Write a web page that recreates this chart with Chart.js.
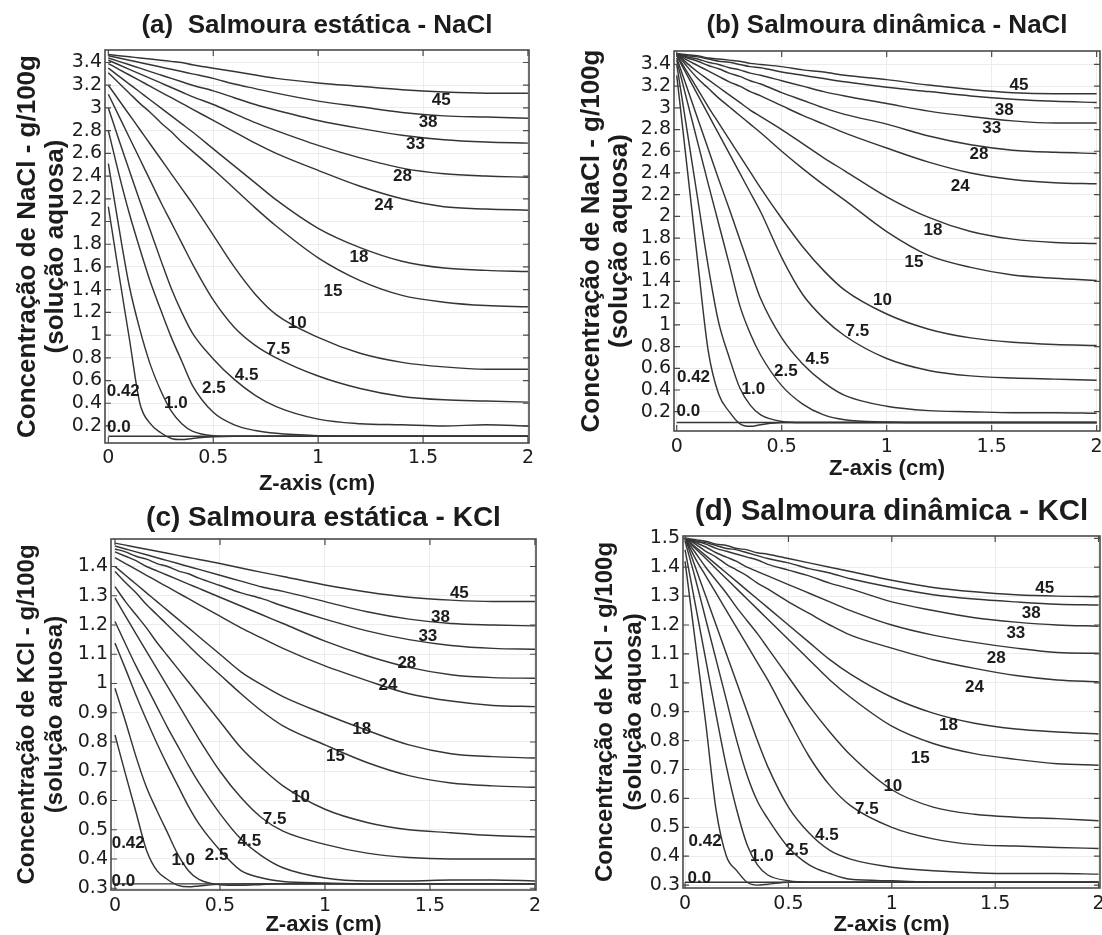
<!DOCTYPE html>
<html>
<head>
<meta charset="utf-8">
<script src="https://cdn.jsdelivr.net/npm/chart.js@4.4.1/dist/chart.umd.min.js"></script>
<style>
  html, body { margin: 0; padding: 0; background: #ffffff; overflow: hidden; width: 1102px; height: 935px; }
  canvas { position: absolute; }
</style>
</head>
<body>
<canvas id="cA" width="551" height="500" style="left:0px;top:0px;"></canvas>
<canvas id="cB" width="580" height="490" style="left:551px;top:0px;"></canvas>
<canvas id="cC" width="551" height="470" style="left:0px;top:480px;"></canvas>
<canvas id="cD" width="580" height="470" style="left:551px;top:480px;"></canvas>
<script>
// ---------------- DATA ----------------
const zGrid = [0, 0.05, 0.1, 0.15, 0.2, 0.25, 0.3, 0.35, 0.4, 0.5, 0.6, 0.7, 0.8, 1.0, 1.2, 1.4, 1.6, 1.8, 2.0];
const curveNames = ['0.0','0.42','1.0','2.5','4.5','7.5','10','15','18','24','28','33','38','45'];
const xTickValues = [0, 0.5, 1, 1.5, 2];
const yTicksNaCl = [0.2, 0.4, 0.6, 0.8, 1, 1.2, 1.4, 1.6, 1.8, 2, 2.2, 2.4, 2.6, 2.8, 3, 3.2, 3.4];
const yTicksKClStatic = [0.3, 0.4, 0.5, 0.6, 0.7, 0.8, 0.9, 1, 1.1, 1.2, 1.3, 1.4];
const yTicksKClDynamic = [0.3, 0.4, 0.5, 0.6, 0.7, 0.8, 0.9, 1, 1.1, 1.2, 1.3, 1.4, 1.5];

// (a) Salmoura estática - NaCl
const naclStatic = [
  [0.11,0.11,0.11,0.11,0.11,0.11,0.11,0.11,0.11,0.11,0.11,0.11,0.11,0.11,0.11,0.11,0.11,0.11,0.11],
  [2.13,1.54,0.97,0.40,0.22,0.14,0.09,0.08,0.09,0.105,0.11,0.11,0.11,0.11,0.11,0.11,0.11,0.11,0.11],
  [2.51,1.95,1.43,1.05,0.74,0.51,0.33,0.22,0.155,0.115,0.11,0.11,0.11,0.11,0.11,0.11,0.11,0.11,0.11],
  [2.80,2.42,2.07,1.76,1.47,1.22,0.98,0.77,0.56,0.32,0.21,0.16,0.135,0.115,0.11,0.11,0.11,0.11,0.11],
  [3.00,2.72,2.45,2.18,1.92,1.66,1.41,1.20,1.02,0.79,0.61,0.47,0.37,0.26,0.22,0.21,0.20,0.21,0.20],
  [3.12,2.93,2.74,2.55,2.36,2.17,1.99,1.81,1.63,1.31,1.07,0.91,0.80,0.64,0.53,0.46,0.43,0.42,0.41],
  [3.20,3.07,2.94,2.81,2.68,2.55,2.42,2.29,2.16,1.88,1.60,1.36,1.18,0.98,0.84,0.76,0.72,0.70,0.70],
  [3.31,3.22,3.13,3.04,2.96,2.87,2.79,2.70,2.62,2.46,2.29,2.12,1.96,1.68,1.48,1.35,1.29,1.26,1.25],
  [3.35,3.28,3.21,3.14,3.07,3.00,2.93,2.86,2.79,2.64,2.49,2.34,2.19,1.94,1.77,1.65,1.59,1.57,1.56],
  [3.39,3.34,3.29,3.24,3.19,3.14,3.09,3.04,2.99,2.89,2.79,2.69,2.60,2.45,2.31,2.20,2.13,2.11,2.10],
  [3.42,3.38,3.34,3.30,3.26,3.22,3.18,3.14,3.10,3.03,2.95,2.87,2.80,2.67,2.56,2.47,2.42,2.40,2.39],
  [3.44,3.41,3.38,3.35,3.32,3.29,3.26,3.23,3.20,3.15,3.09,3.03,2.98,2.89,2.82,2.76,2.72,2.70,2.69],
  [3.46,3.44,3.42,3.40,3.38,3.36,3.34,3.32,3.30,3.26,3.21,3.17,3.13,3.06,3.01,2.96,2.93,2.92,2.91],
  [3.47,3.46,3.45,3.44,3.43,3.42,3.41,3.40,3.38,3.35,3.32,3.29,3.26,3.22,3.19,3.16,3.14,3.13,3.13]
];
const naclStaticLabelAt = [
  [0.05,0.19],[0.071,0.508],[0.322,0.396],[0.503,0.531],[0.659,0.649],[0.81,0.875],[0.90,1.10],
  [1.071,1.383],[1.195,1.689],[1.313,2.139],[1.402,2.395],[1.464,2.677],[1.524,2.874],[1.587,3.065]
];

// (b) Salmoura dinâmica - NaCl
const naclDynamic = [
  [0.10,0.10,0.10,0.10,0.10,0.10,0.10,0.10,0.10,0.10,0.10,0.10,0.10,0.10,0.10,0.10,0.10,0.10,0.10],
  [3.30,2.44,1.58,0.76,0.36,0.20,0.09,0.065,0.08,0.10,0.10,0.10,0.10,0.10,0.10,0.10,0.10,0.10,0.10],
  [3.40,2.78,2.16,1.54,1.02,0.70,0.42,0.26,0.17,0.11,0.10,0.10,0.10,0.10,0.10,0.10,0.10,0.10,0.10],
  [3.44,3.06,2.68,2.30,1.93,1.56,1.18,0.92,0.72,0.44,0.27,0.17,0.125,0.105,0.10,0.10,0.10,0.10,0.10],
  [3.46,3.18,2.90,2.62,2.34,2.07,1.79,1.51,1.24,0.88,0.64,0.47,0.35,0.25,0.21,0.20,0.19,0.19,0.185],
  [3.48,3.30,3.12,2.94,2.76,2.58,2.40,2.22,2.04,1.62,1.28,1.06,0.90,0.69,0.58,0.53,0.51,0.50,0.49],
  [3.49,3.33,3.17,3.01,2.86,2.71,2.56,2.41,2.26,1.98,1.72,1.50,1.32,1.10,0.96,0.88,0.84,0.82,0.81],
  [3.50,3.38,3.27,3.18,3.09,3.01,2.93,2.85,2.77,2.60,2.44,2.29,2.15,1.86,1.64,1.53,1.46,1.43,1.41],
  [3.50,3.41,3.33,3.26,3.19,3.12,3.05,2.98,2.92,2.80,2.67,2.54,2.42,2.18,1.99,1.86,1.79,1.76,1.75],
  [3.50,3.44,3.39,3.34,3.29,3.24,3.20,3.15,3.11,3.02,2.93,2.85,2.77,2.63,2.50,2.40,2.34,2.31,2.30],
  [3.50,3.46,3.43,3.39,3.36,3.32,3.29,3.25,3.22,3.14,3.07,3.00,2.94,2.85,2.74,2.66,2.61,2.59,2.58],
  [3.50,3.47,3.45,3.42,3.40,3.37,3.35,3.32,3.30,3.25,3.20,3.15,3.11,3.04,2.97,2.92,2.88,2.86,2.86],
  [3.50,3.48,3.47,3.45,3.43,3.42,3.40,3.38,3.37,3.33,3.30,3.27,3.24,3.19,3.15,3.11,3.08,3.06,3.05],
  [3.50,3.49,3.48,3.46,3.45,3.44,3.43,3.41,3.40,3.38,3.35,3.33,3.30,3.26,3.21,3.17,3.14,3.13,3.13]
];
const naclDynamicLabelAt = [
  [0.055,0.20],[0.08,0.52],[0.365,0.41],[0.52,0.57],[0.67,0.68],[0.86,0.94],[0.98,1.23],
  [1.13,1.58],[1.22,1.87],[1.35,2.28],[1.44,2.57],[1.50,2.81],[1.56,2.98],[1.63,3.21]
];

// (c) Salmoura estática - KCl
const kclStatic = [
  [0.315,0.315,0.315,0.315,0.315,0.315,0.315,0.315,0.315,0.315,0.315,0.315,0.315,0.315,0.315,0.315,0.315,0.315,0.315],
  [0.824,0.69,0.56,0.43,0.36,0.33,0.31,0.305,0.308,0.314,0.315,0.315,0.315,0.315,0.315,0.315,0.315,0.315,0.315],
  [0.984,0.87,0.75,0.645,0.565,0.49,0.415,0.36,0.33,0.312,0.31,0.313,0.315,0.315,0.315,0.315,0.315,0.315,0.315],
  [1.138,1.05,0.96,0.875,0.795,0.72,0.65,0.58,0.52,0.43,0.36,0.335,0.323,0.318,0.315,0.315,0.315,0.315,0.315],
  [1.212,1.135,1.06,0.99,0.92,0.85,0.785,0.72,0.66,0.555,0.468,0.41,0.37,0.335,0.325,0.325,0.328,0.328,0.325],
  [1.292,1.23,1.17,1.11,1.05,0.99,0.93,0.87,0.81,0.70,0.61,0.54,0.495,0.45,0.42,0.405,0.40,0.40,0.40],
  [1.331,1.28,1.235,1.19,1.14,1.095,1.05,1.005,0.96,0.87,0.78,0.71,0.65,0.57,0.525,0.50,0.49,0.48,0.476],
  [1.383,1.345,1.31,1.27,1.235,1.20,1.165,1.13,1.095,1.03,0.965,0.905,0.855,0.79,0.73,0.685,0.66,0.65,0.645],
  [1.40,1.37,1.34,1.31,1.28,1.25,1.22,1.19,1.16,1.10,1.04,0.995,0.955,0.895,0.84,0.79,0.76,0.75,0.745],
  [1.43,1.41,1.39,1.37,1.35,1.33,1.31,1.29,1.27,1.23,1.19,1.155,1.12,1.06,1.01,0.965,0.94,0.925,0.921],
  [1.45,1.435,1.42,1.40,1.385,1.37,1.355,1.34,1.325,1.295,1.265,1.235,1.205,1.145,1.095,1.055,1.03,1.02,1.018],
  [1.46,1.45,1.435,1.425,1.41,1.40,1.385,1.375,1.36,1.335,1.31,1.29,1.265,1.22,1.18,1.15,1.13,1.12,1.117],
  [1.47,1.46,1.45,1.44,1.43,1.42,1.41,1.40,1.39,1.37,1.35,1.33,1.315,1.28,1.245,1.22,1.205,1.20,1.197],
  [1.48,1.473,1.466,1.459,1.452,1.445,1.438,1.431,1.424,1.41,1.395,1.38,1.366,1.337,1.313,1.295,1.285,1.28,1.28]
];
const kclStaticLabelAt = [
  [0.04,0.323],[0.063,0.454],[0.325,0.397],[0.484,0.414],[0.64,0.46],[0.76,0.536],[0.884,0.611],
  [1.05,0.752],[1.175,0.844],[1.30,0.995],[1.39,1.07],[1.49,1.16],[1.55,1.227],[1.64,1.31]
];

// (d) Salmoura dinâmica - KCl
const kclDynamic = [
  [0.31,0.31,0.31,0.31,0.31,0.31,0.31,0.31,0.31,0.31,0.31,0.31,0.31,0.31,0.31,0.31,0.31,0.31,0.31],
  [1.42,1.14,0.86,0.56,0.40,0.35,0.31,0.30,0.303,0.31,0.31,0.31,0.31,0.31,0.31,0.31,0.31,0.31,0.31],
  [1.46,1.27,1.08,0.89,0.71,0.56,0.44,0.37,0.335,0.315,0.31,0.31,0.31,0.31,0.31,0.31,0.31,0.31,0.31],
  [1.49,1.36,1.22,1.08,0.94,0.80,0.68,0.59,0.53,0.43,0.37,0.34,0.32,0.315,0.31,0.31,0.31,0.31,0.31],
  [1.50,1.40,1.30,1.20,1.10,1.00,0.90,0.80,0.71,0.57,0.48,0.42,0.39,0.362,0.35,0.343,0.34,0.34,0.338],
  [1.50,1.43,1.37,1.31,1.25,1.19,1.13,1.07,1.01,0.875,0.745,0.645,0.575,0.50,0.46,0.44,0.435,0.43,0.427],
  [1.50,1.45,1.40,1.355,1.31,1.26,1.215,1.17,1.12,1.02,0.92,0.83,0.75,0.63,0.57,0.545,0.535,0.53,0.523],
  [1.50,1.465,1.43,1.395,1.36,1.325,1.29,1.255,1.22,1.15,1.08,1.01,0.95,0.85,0.79,0.755,0.735,0.72,0.715],
  [1.50,1.47,1.44,1.41,1.38,1.35,1.32,1.29,1.26,1.20,1.14,1.08,1.03,0.95,0.895,0.86,0.84,0.83,0.823],
  [1.50,1.48,1.455,1.435,1.41,1.39,1.37,1.345,1.325,1.28,1.24,1.20,1.165,1.12,1.08,1.05,1.025,1.01,1.004],
  [1.50,1.485,1.47,1.45,1.435,1.42,1.40,1.385,1.37,1.34,1.31,1.28,1.25,1.20,1.165,1.14,1.12,1.105,1.102],
  [1.50,1.49,1.48,1.465,1.455,1.445,1.435,1.425,1.41,1.39,1.37,1.345,1.325,1.28,1.25,1.225,1.21,1.20,1.196],
  [1.50,1.49,1.485,1.475,1.465,1.46,1.45,1.44,1.43,1.415,1.395,1.38,1.36,1.33,1.305,1.29,1.28,1.272,1.269],
  [1.50,1.495,1.49,1.48,1.475,1.465,1.46,1.45,1.445,1.43,1.415,1.40,1.385,1.355,1.33,1.315,1.305,1.30,1.298]
];
const kclDynamicLabelAt = [
  [0.069,0.323],[0.097,0.45],[0.371,0.398],[0.54,0.421],[0.686,0.473],[0.879,0.562],[1.005,0.643],
  [1.137,0.739],[1.274,0.854],[1.40,0.984],[1.505,1.085],[1.60,1.173],[1.674,1.24],[1.74,1.327]
];

// ---------------- RENDER ----------------
const LINE_COLOR = '#353535';
const TEXT_COLOR = '#1c1c1c';

function makePanel(id, p) {
  const datasets = p.series.map((row, i) => ({
    label: curveNames[i],
    data: zGrid.map((z, j) => ({ x: z, y: row[j] })),
    borderColor: LINE_COLOR,
    borderWidth: 1.45,
    pointRadius: 0,
    fill: false,
    cubicInterpolationMode: 'monotone'
  }));

  const framePlugin = {
    id: 'frameAndLabels_' + id,
    afterDatasetsDraw(chart) {
      const { ctx, chartArea: a, scales } = chart;
      const xs = scales.x, ys = scales.y;
      ctx.save();
      ctx.strokeStyle = '#4a4a4a';
      ctx.lineWidth = 1.6;
      ctx.strokeRect(a.left, a.top, a.right - a.left, a.bottom - a.top);
      ctx.lineWidth = 1.2;
      const L = 6;
      ctx.beginPath();
      ys.ticks.forEach(t => {
        const py = ys.getPixelForValue(t.value);
        ctx.moveTo(a.left, py); ctx.lineTo(a.left + L, py);
        ctx.moveTo(a.right, py); ctx.lineTo(a.right - L, py);
      });
      xs.ticks.forEach(t => {
        const px = xs.getPixelForValue(t.value);
        ctx.moveTo(px, a.bottom); ctx.lineTo(px, a.bottom - L);
        ctx.moveTo(px, a.top); ctx.lineTo(px, a.top + L);
      });
      ctx.stroke();
      ctx.font = 'bold 17px "Liberation Sans", Arial, sans-serif';
      ctx.fillStyle = TEXT_COLOR;
      ctx.textAlign = 'center';
      ctx.textBaseline = 'middle';
      p.labelAt.forEach((pos, i) => {
        ctx.fillText(curveNames[i], xs.getPixelForValue(pos[0]), ys.getPixelForValue(pos[1]));
      });
      ctx.restore();
    }
  };

  new Chart(document.getElementById(id), {
    type: 'line',
    data: { datasets },
    plugins: [framePlugin],
    options: {
      responsive: false,
      animation: false,
      devicePixelRatio: 1,
      events: [],
      layout: { padding: { left: 0, right: p.padRight, top: 0, bottom: 0 } },
      plugins: {
        legend: { display: false },
        tooltip: { enabled: false },
        title: {
          display: true,
          text: p.title,
          fullSize: false,
          color: TEXT_COLOR,
          font: { family: '"Liberation Sans", Arial, sans-serif', weight: 'bold', size: p.titleSize, lineHeight: 1.2 },
          padding: { top: p.titlePadTop, bottom: p.titlePadBottom }
        }
      },
      scales: {
        x: {
          type: 'linear',
          min: p.xMin, max: p.xMax,
          afterBuildTicks: s => { s.ticks = xTickValues.map(v => ({ value: v })); },
          afterFit: s => { s.height = p.xAxisHeight; },
          ticks: {
            autoSkip: false, maxRotation: 0, minRotation: 0,
            padding: p.xTickPad,
            color: TEXT_COLOR,
            font: { family: '"DejaVu Sans", sans-serif', size: 19 },
            callback: v => String(v)
          },
          grid: { color: '#ececec', lineWidth: 1, drawTicks: false },
          border: { display: false },
          title: {
            display: true,
            text: 'Z-axis (cm)',
            color: TEXT_COLOR,
            font: { family: '"Liberation Sans", Arial, sans-serif', weight: 'bold', size: 22, lineHeight: 1 },
            padding: { top: 0, bottom: p.xTitlePadBottom }
          }
        },
        y: {
          type: 'linear',
          min: p.yMin, max: p.yMax,
          afterBuildTicks: s => { s.ticks = p.yTicks.map(v => ({ value: v })); },
          afterFit: s => { s.width = p.yAxisWidth; },
          ticks: {
            autoSkip: false,
            padding: 3,
            color: TEXT_COLOR,
            font: { family: '"DejaVu Sans", sans-serif', size: 19 },
            callback: v => String(v)
          },
          grid: { color: '#ececec', lineWidth: 1, drawTicks: false },
          border: { display: false },
          title: {
            display: true,
            text: p.yTitle,
            color: TEXT_COLOR,
            font: { family: '"Liberation Sans", Arial, sans-serif', weight: 'bold', size: p.yTitleSize, lineHeight: p.yTitleLH },
            padding: { top: p.yTitlePadTop, bottom: 0 }
          }
        }
      }
    }
  });
}

const yTitleNaCl = ['Concentração de NaCl - g/100g', '(solução aquosa)'];
const yTitleKCl = ['Concentração de KCl - g/100g', '(solução aquosa)'];

makePanel('cA', {
  series: naclStatic, labelAt: naclStaticLabelAt, yTicks: yTicksNaCl,
  title: '(a)  Salmoura estática - NaCl', titleSize: 26, titlePadTop: 10.4, titlePadBottom: 8.4,
  yTitle: yTitleNaCl, yTitleSize: 26, yTitleLH: 28 / 26, yTitlePadTop: 14,
  xMin: -0.016, xMax: 2.005, yMin: 0.05, yMax: 3.51,
  padRight: 22, yAxisWidth: 105, xAxisHeight: 57, xTickPad: 4, xTitlePadBottom: 5
});
makePanel('cB', {
  series: naclDynamic, labelAt: naclDynamicLabelAt, yTicks: yTicksNaCl,
  title: '(b) Salmoura dinâmica - NaCl', titleSize: 26, titlePadTop: 10.4, titlePadBottom: 9.4,
  yTitle: yTitleNaCl, yTitleSize: 26, yTitleLH: 28 / 26, yTitlePadTop: 27,
  xMin: -0.013, xMax: 2.016, yMin: 0.022, yMax: 3.524,
  padRight: 31, yAxisWidth: 123, xAxisHeight: 59, xTickPad: 5, xTitlePadBottom: 10
});
makePanel('cC', {
  series: kclStatic, labelAt: kclStaticLabelAt, yTicks: yTicksKClStatic,
  title: '(c) Salmoura estática - KCl', titleSize: 28, titlePadTop: 21.2, titlePadBottom: 4.2,
  yTitle: yTitleKCl, yTitleSize: 24, yTitleLH: 28 / 24, yTitlePadTop: 13,
  xMin: -0.019, xMax: 2.005, yMin: 0.294, yMax: 1.494,
  padRight: 15, yAxisWidth: 111, xAxisHeight: 60, xTickPad: 5, xTitlePadBottom: 14
});
makePanel('cD', {
  series: kclDynamic, labelAt: kclDynamicLabelAt, yTicks: yTicksKClDynamic,
  title: '(d) Salmoura dinâmica - KCl', titleSize: 29.5, titlePadTop: 14.3, titlePadBottom: 6.3,
  yTitle: yTitleKCl, yTitleSize: 24, yTitleLH: 29 / 24, yTitlePadTop: 39.5,
  xMin: -0.010, xMax: 2.007, yMin: 0.29, yMax: 1.508,
  padRight: 31, yAxisWidth: 132, xAxisHeight: 62, xTickPad: 5, xTitlePadBottom: 14
});
</script>
</body>
</html>
